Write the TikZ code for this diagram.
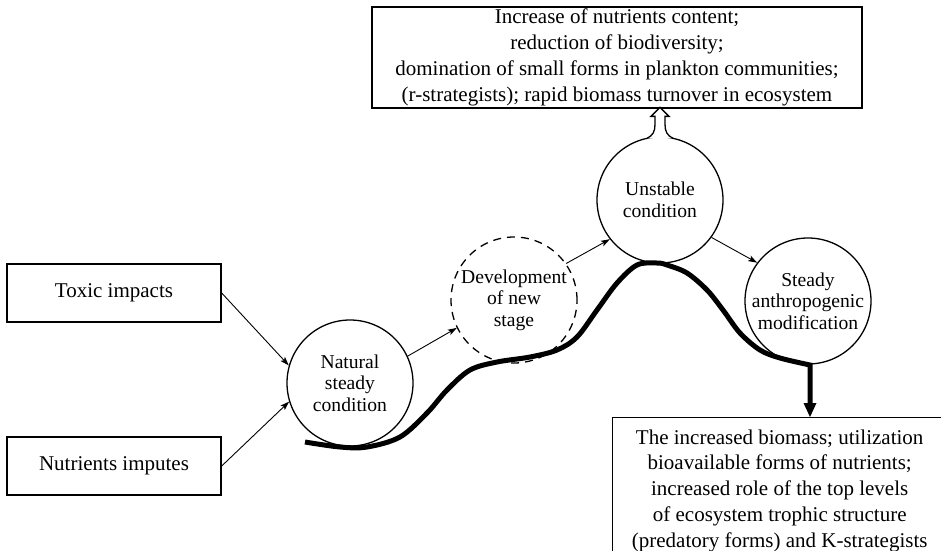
\documentclass[tikz,border=0pt]{standalone}
\usepackage{fontspec}
\setmainfont{Liberation Serif}
\usepackage{tikz}
\usetikzlibrary{arrows.meta, positioning, calc}

\begin{document}
\begin{tikzpicture}[x=1pt, y=-1pt,
    % Styles
    input box/.style={draw, line width=1.4pt, minimum width=214pt, minimum height=58pt, inner sep=0pt, font=\fontsize{21}{25.5}\selectfont},
    state/.style={draw, circle, line width=1.3pt, minimum size=126pt, inner sep=0pt, align=center, font=\fontsize{19.6}{21.5}\selectfont},
    result box/.style={draw, line width=1.4pt, inner sep=0pt, align=center, font=\fontsize{21}{25.8}\selectfont},
    link/.style={-{Stealth[length=9pt, width=6pt, inset=2pt]}, line width=0.9pt},
    path line/.style={line width=5pt},
]
    % Page frame
    \useasboundingbox (0,0) rectangle (941,550);
    \clip (0,0) rectangle (941,550);

    % Impacts on the left
    \node[input box] (toxic) at (114,293) {Toxic impacts};
    \node[input box] (nutrients) at (114,466) {Nutrients imputes};

    % States of the ecosystem
    \node[state] (natural) at (350,383) {Natural\\steady\\condition};
    \node[state, dash pattern=on 8pt off 6pt] (new stage) at (514,300) {Development\\of new\\stage};
    \node[state] (unstable) at (660,200) {Unstable\\condition};
    \node[state] (steady) at (808,301) {Steady\\anthropogenic\\modification};

    % Outcome boxes
    \node[result box, minimum width=490pt, minimum height=101pt] (top box) at (617,57.5)
        {Increase of nutrients content;\\reduction of biodiversity;\\domination of small forms in plankton communities;\\(r-strategists); rapid biomass turnover in ecosystem};
    \node[result box, minimum width=334pt, minimum height=146pt, anchor=north west] (bottom box) at (612,417)
        {The increased biomass; utilization\\bioavailable forms of nutrients;\\increased role of the top levels\\of ecosystem trophic structure\\(predatory forms) and K-strategists};

    % Thin arrows between states
    \draw[link] (toxic.east) -- (natural.164);
    \draw[link] (nutrients.east) -- (natural.197);
    \draw[link] (natural.25) -- (new stage.206);
    \draw[link] (new stage.35) -- (unstable.218);
    \draw[link] (unstable.-36) -- (steady.143);

    % Hollow arrow up to the top box
    \begin{scope}[shift={(unstable.north)}]
        \draw[line width=1.3pt, fill=white] (-13,2) .. controls (-7,-1) and (-5,-5) .. (-5,-12) -- (-5,-20) -- (-9,-20)
            -- (0,-29) -- (9,-20) -- (5,-20) -- (5,-12) .. controls (5,-5) and (7,-1) .. (13,2);
    \end{scope}

    % Thick trajectory line
    \coordinate (start) at (305,442);
    \coordinate (turn) at (810,365);
    \draw[path line, -{Triangle[length=14pt, width=13pt, line width=0pt]}]
        plot[smooth, tension=0.55] coordinates {(start) (340,447) (367,447) (400,437) (427,413) (447,390) (470,370)
            (497,362) (530,357) (557,350) (577,337) (597,310) (617,283) (637,265) (657,263) (667,265) (687,273)
            (707,290) (723,310) (740,333) (760,350) (780,358) (turn)}
        -- (bottom box.north -| turn);
\end{tikzpicture}
\end{document}
